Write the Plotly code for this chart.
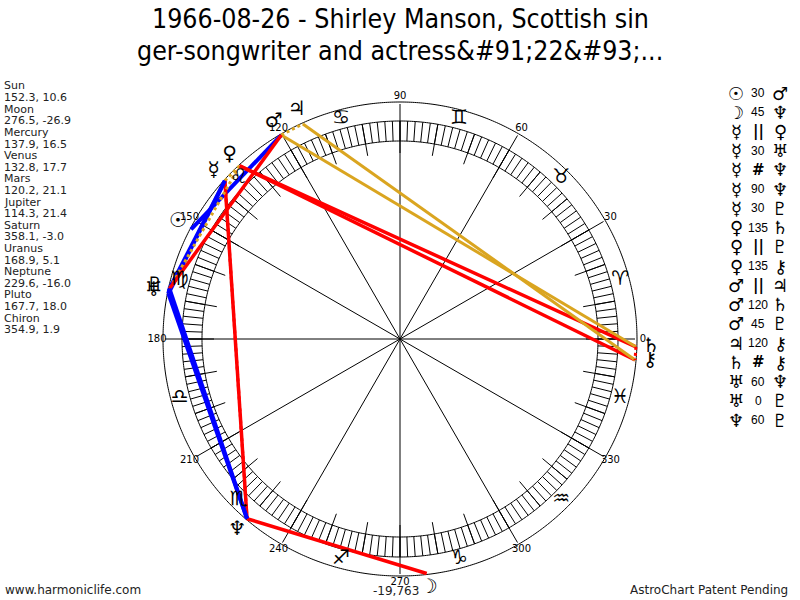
import numpy as np
import plotly.graph_objects as go

# planet data (longitude, declination)
planet_names = ["Sun", "Moon", "Mercury", "Venus", "Mars", "Jupiter",
                "Saturn", "Uranus", "Neptune", "Pluto", "Chiron"]
planet_lon = [152.3, 276.5, 137.9, 132.8, 120.2, 114.3, 358.1, 168.9, 229.6, 167.7, 354.9]
planet_decl = [10.6, -26.9, 16.5, 17.7, 21.1, 21.4, -3.0, 5.1, -16.0, 18.0, 1.9]
planet_glyph = ["☉", "☽", "☿", "♀", "♂", "♃", "♄", "♅", "♆", "♇", "⚷"]

# aspect list (right column)
asp_p1 = ["Sun", "Moon", "Mercury", "Mercury", "Mercury", "Mercury", "Mercury", "Venus", "Venus",
          "Venus", "Mars", "Mars", "Mars", "Jupiter", "Saturn", "Uranus", "Uranus", "Neptune"]
asp_kind = ["30", "45", "||", "30", "#", "90", "30", "135", "||",
            "135", "||", "120", "45", "120", "#", "60", "0", "60"]
asp_p2 = ["Mars", "Neptune", "Venus", "Uranus", "Neptune", "Neptune", "Pluto", "Saturn", "Pluto",
          "Chiron", "Jupiter", "Saturn", "Pluto", "Chiron", "Chiron", "Neptune", "Pluto", "Pluto"]

sign_glyph = ["♈", "♉", "♊", "♋", "♌", "♍", "♎", "♏", "♐", "♑", "♒", "♓"]
degree_labels = [str(d) for d in range(0, 360, 30)]

# the source page shows the html entities literally
title_lines = ["1966-08-26 - Shirley Manson, Scottish sin",
               "ger-songwriter and actress&amp;#91;22&amp;#93;..."]

# styles
R_OUT, R_BAND_OUT, R_BAND_IN = 237, 218, 198
kind_style = {
    "30": ("#0000FF", "solid", 4), "60": ("#0000FF", "solid", 4), "0": ("#0000FF", "solid", 4),
    "45": ("#FF0000", "solid", 3.5), "90": ("#FF0000", "solid", 3.5), "135": ("#FF0000", "solid", 3.5),
    "120": ("#DAA520", "solid", 3),
    "||": ("#DAA520", "dot", 3), "#": ("#FF0000", "dot", 3),
}
lon = dict(zip(planet_names, planet_lon))
glyph = dict(zip(planet_names, planet_glyph))

fig = go.Figure()

def polar_line(r, theta, color="black", width=1, dash="solid"):
    fig.add_trace(go.Scatterpolar(r=r, theta=theta, mode="lines",
                                  line=dict(color=color, width=width, dash=dash),
                                  hoverinfo="skip", showlegend=False, cliponaxis=False))

def polar_text(r, theta, text, size, color="black", family="DejaVu Sans"):
    fig.add_trace(go.Scatterpolar(r=r, theta=theta, mode="text", text=text,
                                  textposition="middle center",
                                  textfont=dict(size=size, color=color, family=family),
                                  hoverinfo="skip", showlegend=False, cliponaxis=False))

# circles
circ = np.linspace(0, 360, 721)
for rad in (R_OUT, R_BAND_OUT, R_BAND_IN):
    polar_line([rad] * len(circ), circ)

# 2 degree hatch in the band
hr, ht = [], []
for a in range(0, 360, 2):
    hr += [R_BAND_IN, R_BAND_OUT, None]
    ht += [a, a, None]
polar_line(hr, ht)

# 10 degree ticks
tr, tt = [], []
for a in range(0, 360, 10):
    tr += [186, R_BAND_OUT, None]
    tt += [a, a, None]
polar_line(tr, tt)

# 30 degree spokes
sr, st = [], []
for a in range(0, 360, 30):
    sr += [0, 235, None]
    st += [a, a, None]
polar_line(sr, st)

# aspect lines
for p1, k, p2 in zip(asp_p1, asp_kind, asp_p2):
    c, d, w = kind_style[k]
    polar_line([236, 236], [lon[p1], lon[p2]], color=c, width=w, dash=d)

# degree labels, signs, planets
polar_text([243] * 12, list(range(0, 360, 30)), degree_labels, 10)
polar_text([228] * 12, list(range(15, 360, 30)), sign_glyph, 20)
polar_text([251] * len(planet_lon), planet_lon, planet_glyph, 20)

fig.update_layout(
    width=800, height=600, margin=dict(l=0, r=0, t=0, b=0),
    paper_bgcolor="white", plot_bgcolor="white", showlegend=False,
    polar=dict(
        domain=dict(x=[140 / 800, 660 / 800], y=[1 / 600, 521 / 600]),
        bgcolor="white",
        radialaxis=dict(range=[0, 260], visible=False, showgrid=False),
        angularaxis=dict(visible=False, showgrid=False, rotation=0,
                         direction="counterclockwise", showline=False),
    ),
)

def px_note(x, y, text, size, xanchor="left", family="DejaVu Sans", color="#222222"):
    fig.add_annotation(x=x / 800, y=1 - y / 600, xref="paper", yref="paper",
                       text=text, showarrow=False, xanchor=xanchor, yanchor="middle",
                       font=dict(size=size, family=family, color=color))

# title
title_font = "DejaVu Sans Condensed, Liberation Sans"
px_note(400, 18, title_lines[0], 26.5, "center", title_font, "black")
px_note(400, 50, title_lines[1], 26.5, "center", title_font, "black")

# planet list on the left
for i, (n, lo, de) in enumerate(zip(planet_names, planet_lon, planet_decl)):
    px_note(2, 86 + 2 * i * 11.6, n, 11)
    px_note(2, 86 + (2 * i + 1) * 11.6, f"{lo:.1f}, {de:.1f}", 11)

# aspect list on the right
for i, (p1, k, p2) in enumerate(zip(asp_p1, asp_kind, asp_p2)):
    y = 93 + i * 19.24
    px_note(736, y, glyph[p1], 18, "center", color="black")
    if k in ("||", "#"):
        px_note(758, y, f"<b>{k}</b>", 15, "center", color="black")
    else:
        px_note(758, y, k, 12, "center", "Liberation Sans", "black")
    px_note(780, y, glyph[p2], 18, "center", color="black")

# footer
px_note(3, 590, "www.harmoniclife.com", 12)
px_note(790, 590, "AstroChart Patent Pending", 12, "right")
px_note(396, 591, "-19,763", 12, "center")

# drop the default page margin so the figure sits at the window corner
fig.write_html("out.html", config={"displayModeBar": False},
               post_script="document.body.style.margin='0';")
